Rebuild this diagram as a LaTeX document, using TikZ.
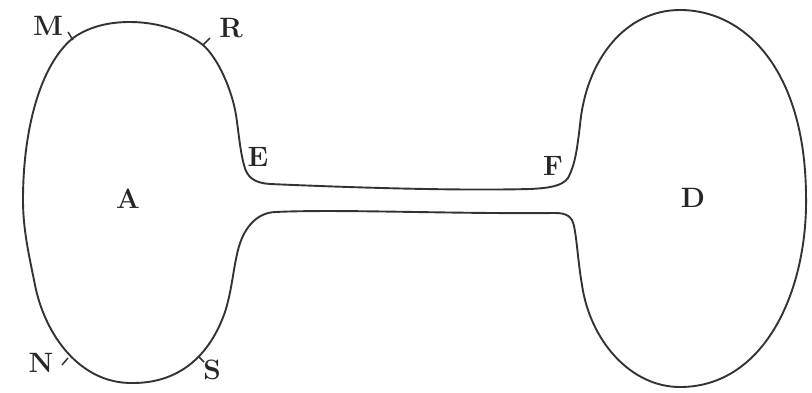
\documentclass[tikz,border=0pt]{standalone}
\begin{document}
\begin{tikzpicture}[x=1pt,y=-1pt,
 lbl/.style={font=\bfseries\fontsize{28}{30}\selectfont,text=black!85,inner sep=0pt},
 outline/.style={draw=black!80,line width=1.9pt,line join=round},
 tick/.style={draw=black!80,line width=1.5pt}]
\useasboundingbox (0,0) rectangle (812,392);
\draw[outline] (23,200)
 .. controls (23,130) and (40,65) .. (73,38)
 .. controls (90,26) and (110,22) .. (130,22)
 .. controls (158,22) and (185,31) .. (203,45)
 .. controls (218,58) and (232,90) .. (236,115)
 .. controls (239,135) and (240,150) .. (244,165)
 .. controls (247,178) and (255,183) .. (270,184)
 .. controls (340,187) and (450,191) .. (530,189)
 .. controls (550,188) and (562,186) .. (568,178)
 .. controls (575,165) and (577,150) .. (580,125)
 .. controls (586,60) and (625,10) .. (680,10)
 .. controls (745,10) and (805,70) .. (806,195)
 .. controls (808,290) and (765,387) .. (680,387)
 .. controls (630,387) and (590,340) .. (582,285)
 .. controls (578,262) and (577,240) .. (574,226)
 .. controls (572,216) and (566,213) .. (555,213)
 .. controls (450,214) and (340,209) .. (275,212)
 .. controls (255,213) and (243,230) .. (238,250)
 .. controls (233,270) and (232,290) .. (225,312)
 .. controls (210,355) and (180,383) .. (133,383)
 .. controls (80,384) and (45,335) .. (35,285)
 .. controls (29,255) and (23,230) .. (23,200) -- cycle;
\coordinate (m1) at (68,32); \coordinate (m2) at (73,40);
\draw[tick] (m1)--(m2);
\coordinate (r1) at (210,38); \coordinate (r2) at (203,45);
\draw[tick] (r1)--(r2);
\coordinate (n1) at (62,365); \coordinate (n2) at (68,358);
\draw[tick] (n1)--(n2);
\coordinate (s1) at (204,362); \coordinate (s2) at (199,357);
\draw[tick] (s1)--(s2);
\node[lbl] (M) at (48,26) {M};
\node[lbl] (R) at (231,28) {R};
\node[lbl] (E) at (258,157) {E};
\node[lbl] (F) at (553,166) {F};
\node[lbl] (A) at (128,199) {A};
\node[lbl] (D) at (693,198) {D};
\node[lbl] (N) at (41,363) {N};
\node[lbl] (S) at (212,370) {S};
\end{tikzpicture}
\end{document}
